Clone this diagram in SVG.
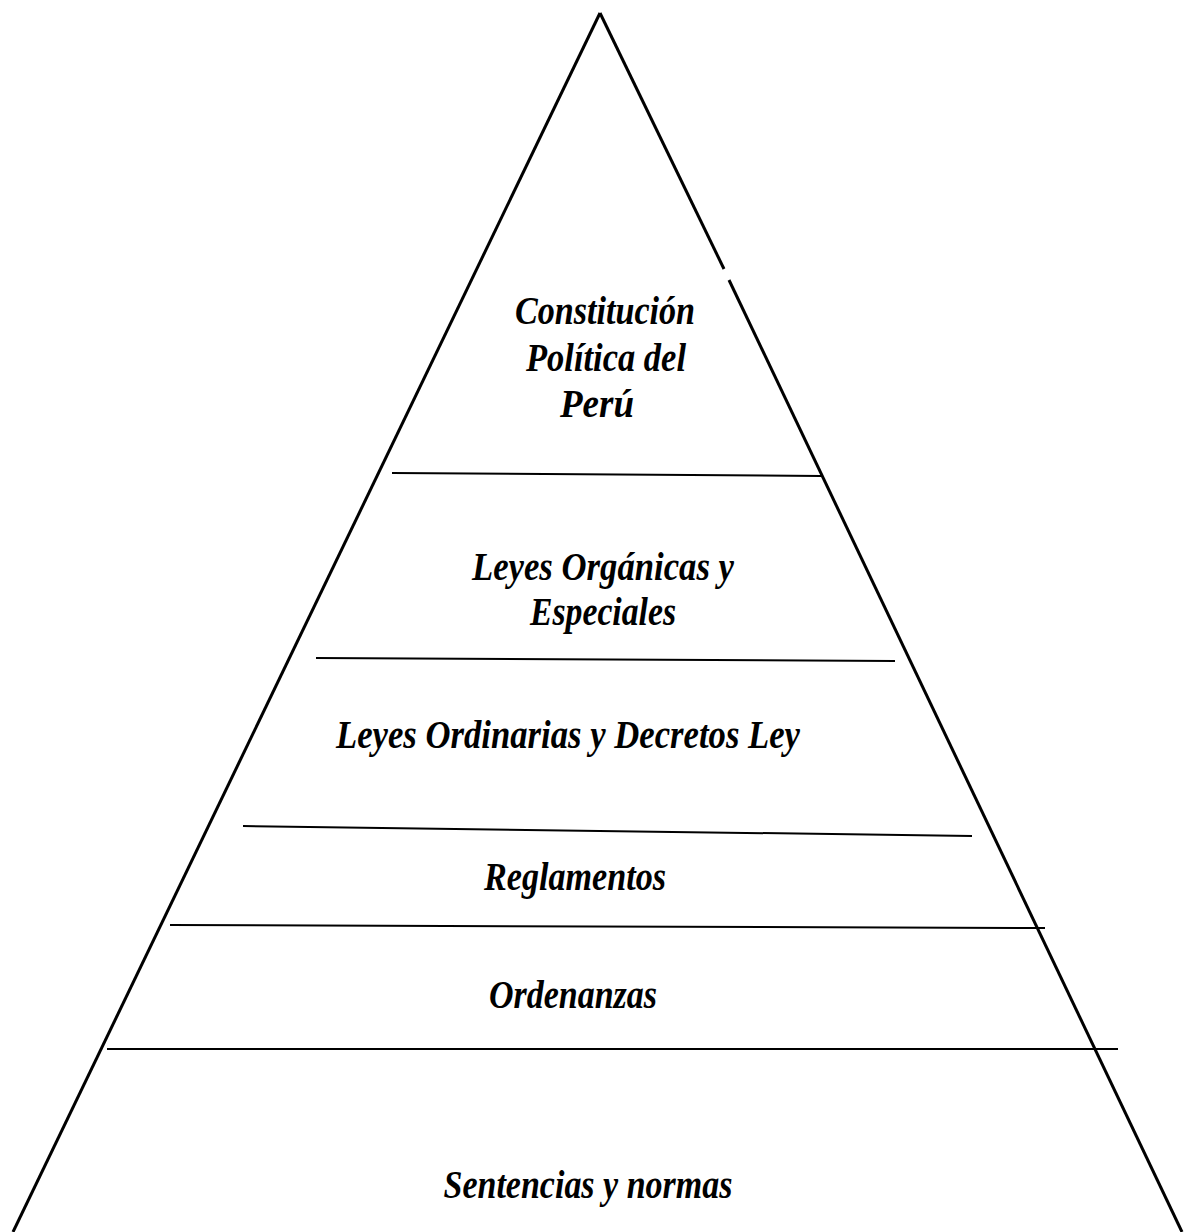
<svg xmlns="http://www.w3.org/2000/svg" width="1184" height="1232" viewBox="0 0 1184 1232">
<style>
.side{stroke:#000;stroke-width:3;fill:none;stroke-linecap:butt}
.div{stroke:#000;stroke-width:2;fill:none}
.lbl{font-family:"Liberation Serif","Times New Roman",serif;font-weight:bold;font-style:italic;font-size:40px;fill:#000;text-anchor:middle}
</style>
<rect width="1184" height="1232" fill="#fff"/>
<g id="pyramid">
<line class="side" x1="600" y1="13" x2="13" y2="1232"/>
<line class="side" x1="600" y1="13" x2="724" y2="269"/>
<line class="side" x1="729" y1="280" x2="1182" y2="1232"/>
</g>
<g id="dividers">
<line class="div" x1="392" y1="473" x2="821" y2="476"/>
<line class="div" x1="316" y1="658" x2="895" y2="661"/>
<line class="div" x1="243" y1="826" x2="972" y2="836"/>
<line class="div" x1="170" y1="925" x2="1045" y2="928"/>
<line class="div" x1="107" y1="1049" x2="1118" y2="1049"/>
</g>
<g id="level1">
<text class="lbl" x="605" y="324" textLength="180" lengthAdjust="spacingAndGlyphs">Constitución</text>
<text class="lbl" x="606" y="371" textLength="160" lengthAdjust="spacingAndGlyphs">Política del</text>
<text class="lbl" x="597" y="417" textLength="74" lengthAdjust="spacingAndGlyphs">Perú</text>
</g>
<g id="level2">
<text class="lbl" x="603" y="580" textLength="262" lengthAdjust="spacingAndGlyphs">Leyes Orgánicas y</text>
<text class="lbl" x="603" y="625" textLength="146" lengthAdjust="spacingAndGlyphs">Especiales</text>
</g>
<g id="level3">
<text class="lbl" x="568" y="748" textLength="464" lengthAdjust="spacingAndGlyphs">Leyes Ordinarias y Decretos Ley</text>
</g>
<g id="level4">
<text class="lbl" x="575" y="890" textLength="182" lengthAdjust="spacingAndGlyphs">Reglamentos</text>
</g>
<g id="level5">
<text class="lbl" x="573" y="1008" textLength="168" lengthAdjust="spacingAndGlyphs">Ordenanzas</text>
</g>
<g id="level6">
<text class="lbl" x="588" y="1198" textLength="289" lengthAdjust="spacingAndGlyphs">Sentencias y normas</text>
</g>
</svg>
